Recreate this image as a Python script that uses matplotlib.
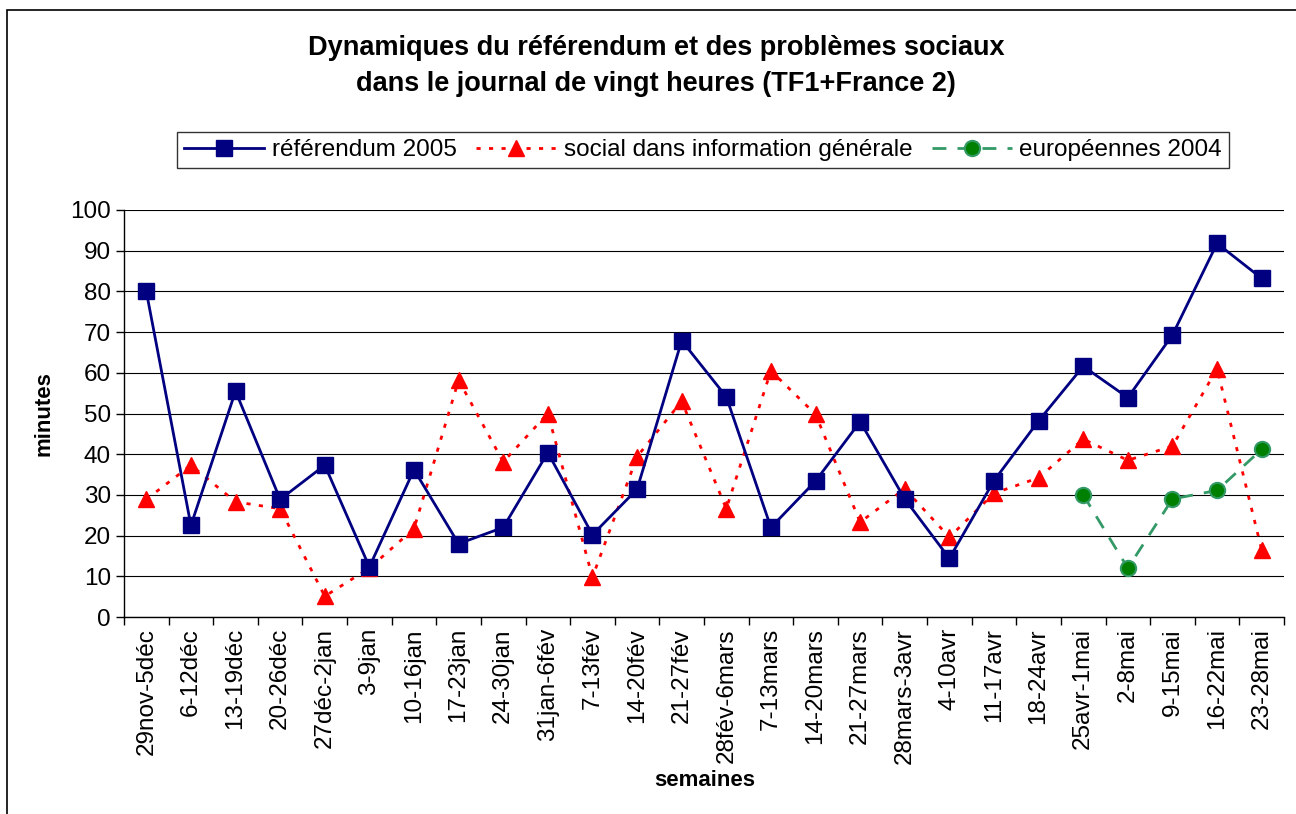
import matplotlib.pyplot as plt
import numpy as np
from matplotlib.patches import Rectangle

plt.rcParams['font.family'] = ['Liberation Sans', 'DejaVu Sans']

semaines = ["29nov-5déc", "6-12déc", "13-19déc", "20-26déc", "27déc-2jan", "3-9jan",
            "10-16jan", "17-23jan", "24-30jan", "31jan-6fév", "7-13fév", "14-20fév",
            "21-27fév", "28fév-6mars", "7-13mars", "14-20mars", "21-27mars", "28mars-3avr",
            "4-10avr", "11-17avr", "18-24avr", "25avr-1mai", "2-8mai", "9-15mai",
            "16-22mai", "23-28mai"]

referendum = [80, 22.5, 55.5, 28.9, 37.3, 12.3, 36.2, 18.0, 22.0, 40.4, 20.2, 31.4,
              67.9, 54.1, 22.0, 33.4, 48.0, 29.0, 14.4, 33.5, 48.2, 61.6, 53.9, 69.3,
              91.8, 83.2]
social = [28.9, 37.3, 28.3, 26.6, 5.1, 12.0, 21.7, 58.2, 38.1, 50.0, 9.8, 39.4,
          53.0, 26.6, 60.5, 49.8, 23.3, 31.5, 19.6, 30.4, 34.2, 43.7, 38.5, 42.0,
          61.0, 16.5]
europ_idx = [21, 22, 23, 24, 25]
europeennes = [30.0, 12.0, 29.0, 31.1, 41.2]

W, H = 1296, 814
fig = plt.figure(figsize=(W / 100, H / 100), dpi=100)
ax = fig.add_axes([124 / W, 1 - 617 / H, (1284 - 124) / W, (617 - 210) / H])

x = np.arange(len(semaines))
ax.plot(x, referendum, color='#000080', lw=2, marker='s', ms=12,
        mfc='#000080', mec='#000080', label='référendum 2005', zorder=4)
ax.plot(x, social, color='#FF0000', lw=2, ls=(0, (1.5, 3)), marker='^', ms=12,
        mfc='#FF0000', mec='#FF0000', label='social dans information générale', zorder=3)
ax.plot(europ_idx, europeennes, color='#339966', lw=2, ls=(0, (5, 4)), marker='o', ms=11,
        mfc='#008000', mec='#339966', mew=1.5, label='européennes 2004', zorder=3)

ax.set_xlim(-0.5, len(semaines) - 0.5)
ax.set_ylim(0, 100)
ax.set_yticks(range(0, 101, 10))
ax.yaxis.grid(True, color='black', lw=0.8)
ax.set_axisbelow(True)

ax.set_xticks(x)
ax.set_xticklabels(semaines, rotation=90, fontsize=17.5)
ax.set_xticks(np.arange(-0.5, len(semaines)), minor=True)
ax.tick_params(axis='x', which='major', length=0, pad=8)
ax.tick_params(axis='x', which='minor', length=6, direction='out', width=1)
ax.tick_params(axis='y', labelsize=17.5, length=6, direction='out', width=1)

for s in ['top', 'right']:
    ax.spines[s].set_visible(False)
for s in ['left', 'bottom']:
    ax.spines[s].set_linewidth(1)

ax.set_ylabel('minutes', fontsize=16, fontweight='bold', labelpad=11)
fig.text(705 / W, 1 - 780 / H, 'semaines', fontsize=16, fontweight='bold',
         ha='center', va='center')

fig.text(656 / W, 1 - 66 / H,
         'Dynamiques du référendum et des problèmes sociaux\n'
         'dans le journal de vingt heures (TF1+France 2)',
         fontsize=19.5, fontweight='bold', ha='center', va='center', linespacing=1.5)

leg = fig.legend(loc='center', bbox_to_anchor=(703 / W, 1 - 150 / H), ncol=3,
                 fontsize=17.5, frameon=True, fancybox=False, handlelength=3.3,
                 columnspacing=0.8, handletextpad=0.3, borderpad=0.3)
leg.get_frame().set_edgecolor('black')
leg.get_frame().set_linewidth(1)

fig.patches.append(Rectangle((7 / W, -0.05), 1.1, 1 - 10 / H + 0.05,
                             transform=fig.transFigure, fill=False,
                             edgecolor='black', lw=1.2))

fig.savefig('out.png', dpi=100)
